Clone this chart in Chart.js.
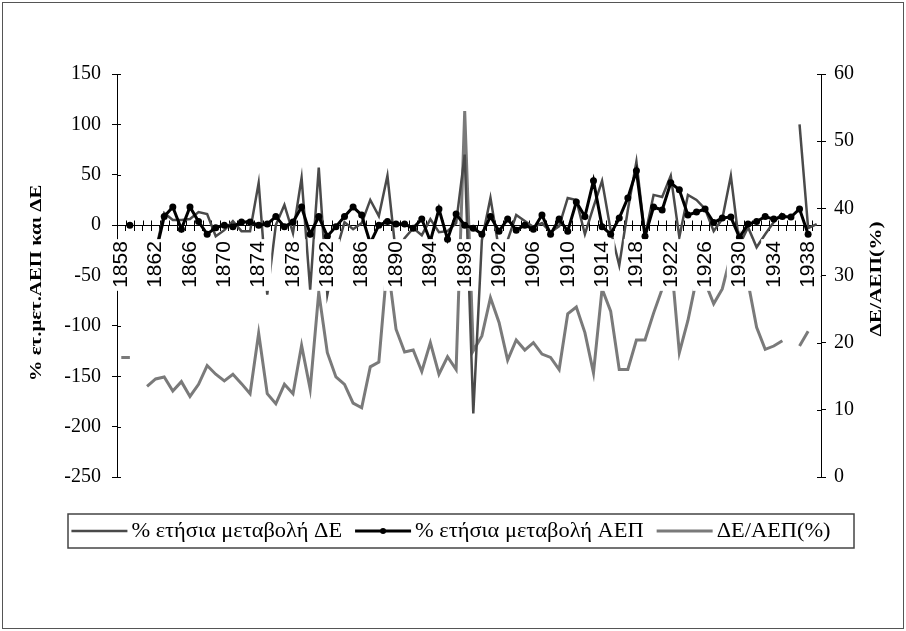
<!DOCTYPE html>
<html><head><meta charset="utf-8">
<script src="https://cdn.jsdelivr.net/npm/chart.js@4"></script>
<style>html,body{margin:0;padding:0;background:#fff;overflow:hidden}</style>
</head><body>
<canvas id="c" width="906" height="631"></canvas>
<script>
const years = ['1858','1859','1860','1861','1862','1863','1864','1865','1866','1867','1868','1869','1870','1871','1872','1873','1874','1875','1876','1877','1878','1879','1880','1881','1882','1883','1884','1885','1886','1887','1888','1889','1890','1891','1892','1893','1894','1895','1896','1897','1898','1899','1900','1901','1902','1903','1904','1905','1906','1907','1908','1909','1910','1911','1912','1913','1914','1915','1916','1917','1918','1919','1920','1921','1922','1923','1924','1925','1926','1927','1928','1929','1930','1931','1932','1933','1934','1935','1936','1937','1938','1939'];

// % annual change of ΔΕ (left axis)
const changeDE = [null,null,null,null,-25,12,5,5,6,13,11,-11,-5,4,-6,-6,42,-69,0,20,-8,47,-64,57,-69,-27,3,-4,2,25,9,49,-30,-13,-3,-10,6,-7,-6,2,70,-187,-15,27,-25,-15,10,4,-2,2,-7,-1,27,25,-9,18,44,-5,-40,15,63,-11,30,28,49,-12,30,25,16,-6,6,49,-20,-2,-22,-9,3,12,null,100,-3,1];

// % annual change of ΑΕΠ (left axis)
const changeGDP = [null,0,null,null,-28,8.5,18,-4,18,3.5,-9,-2.5,0,-1.5,3,3,0,1,8.5,-1.5,3,18,-9,8.5,-11,-1.5,8.5,18,10,-18,0,3.5,1,1,-3,6,-16,16,-14,11,0,-3,-9,8.5,-6,6,-5,0,-4,10,-9,6,-6,23,8.5,44,-1.5,-9,7,27,54,-11,18,15,42,35,10,13,16,2.5,7,8,-12,1,3.5,8.5,6,8.5,8,16,-9,null];

// ΔΕ/ΑΕΠ (%) (right axis)
const ratioDE = [17.8,17.8,null,13.5,14.6,14.9,12.8,14.2,12,13.8,16.6,15.3,14.3,15.3,13.9,12.4,21.4,12.4,10.9,13.8,12.4,19.6,13.1,27.5,18.5,14.9,13.8,11,10.3,16.4,17.1,32,22,18.6,18.9,15.7,20,15.3,17.9,16,54.5,18.8,21,26.7,23,17.4,20.4,18.9,20,18.3,17.8,16,24.3,25.3,21.5,15.5,28,24.7,16,16,20.4,20.4,24.4,28,33,18.5,23.3,29.5,29,25.8,28,33,36,29,22.3,19,19.5,20.3,null,19.5,21.7,null];

const leftTicks = [-250,-200,-150,-100,-50,0,50,100,150];
const rightTicks = [0,10,20,30,40,50,60];
const seriesNames = ['% ετήσια μεταβολή ΔΕ','% ετήσια μεταβολή ΑΕΠ','ΔΕ/ΑΕΠ(%)'];
const leftTitle = '% ετ.μετ.ΑΕΠ και ΔΕ';
const rightTitle = 'ΔΕ/ΑΕΠ(%)';

const framePlugin = {
  id: 'frame',
  beforeDraw(chart) {
    const ctx = chart.ctx;
    ctx.save();
    ctx.fillStyle = '#fff';
    ctx.fillRect(0, 0, chart.width, chart.height);
    ctx.strokeStyle = '#555';
    ctx.lineWidth = 1;
    ctx.strokeRect(2.5, 2.5, chart.width - 5, chart.height - 5);
    ctx.restore();
  }
};

const innerTicks = {
  id: 'innerTicks',
  beforeDatasetsDraw(chart) {
    const ctx = chart.ctx, s = chart.scales, a = chart.chartArea;
    ctx.save();
    ctx.strokeStyle = '#000';
    ctx.lineWidth = 1;
    ctx.beginPath();
    s.y.ticks.forEach(t => { const py = Math.round(s.y.getPixelForValue(t.value)) + 0.5; ctx.moveTo(a.left, py); ctx.lineTo(a.left + 4, py); });
    s.y1.ticks.forEach(t => { const py = Math.round(s.y1.getPixelForValue(t.value)) + 0.5; ctx.moveTo(a.right - 4, py); ctx.lineTo(a.right, py); });
    const y0 = Math.round(s.y.getPixelForValue(0)) + 0.5;
    const n = years.length;
    for (let i = 0; i <= n; i++) {
      const px = Math.round(a.left + (a.right - a.left) * i / n) + 0.5;
      ctx.moveTo(px, y0 - 5); ctx.lineTo(px, y0);
    }
    ctx.stroke();
    ctx.restore();
  }
};

function drawStretched(ctx, text, cx, cy, font, stretch) {
  ctx.save();
  ctx.translate(cx, cy);
  ctx.rotate(-Math.PI / 2);
  ctx.scale(stretch, 1);
  ctx.font = font;
  ctx.fillStyle = '#000';
  ctx.textAlign = 'center';
  ctx.textBaseline = 'middle';
  ctx.fillText(text, 0, 0);
  ctx.restore();
}

const titlesPlugin = {
  id: 'titles',
  afterDraw(chart) {
    const ctx = chart.ctx;
    drawStretched(ctx, leftTitle, 37, 283, 'bold 16px "Liberation Serif"', 1.3);
    drawStretched(ctx, rightTitle, 877, 279, 'bold 16px "Liberation Serif"', 1.33);
  }
};

const legendPlugin = {
  id: 'boxLegend',
  afterDraw(chart) {
    const ctx = chart.ctx;
    const L = 68, T = 514, R = 854, B = 548;
    const stretch = 1.12;
    ctx.save();
    ctx.strokeStyle = '#444';
    ctx.lineWidth = 1.5;
    ctx.strokeRect(L, T, R - L, B - T);
    ctx.font = '20px "Liberation Serif"';
    ctx.textBaseline = 'middle';
    ctx.textAlign = 'left';
    const sample = 56, gap = 4, itemGap = 13;
    const ds = chart.data.datasets;
    const widths = ds.map(d => ctx.measureText(d.label).width * stretch);
    const total = widths.reduce((s, w) => s + w + sample + gap, 0) + itemGap * (ds.length - 1);
    let x = (L + R) / 2 - total / 2 - 10;
    const cy = (T + B) / 2;
    ds.forEach((d, i) => {
      ctx.strokeStyle = d.borderColor;
      ctx.lineWidth = d.borderWidth;
      ctx.beginPath(); ctx.moveTo(x, cy); ctx.lineTo(x + sample, cy); ctx.stroke();
      if (d.pointRadius > 0) {
        ctx.fillStyle = d.pointBackgroundColor;
        ctx.beginPath(); ctx.arc(x + sample / 2, cy, d.pointRadius - 0.5, 0, Math.PI * 2); ctx.fill();
      }
      ctx.save();
      ctx.translate(x + sample + gap, cy + 1);
      ctx.scale(stretch, 1);
      ctx.fillStyle = '#000';
      ctx.fillText(d.label, 0, 0);
      ctx.restore();
      x += sample + gap + widths[i] + itemGap;
    });
    ctx.restore();
  }
};

new Chart(document.getElementById('c'), {
  type: 'line',
  data: {
    labels: years,
    datasets: [
      { label: seriesNames[0], data: changeDE, yAxisID: 'y', borderColor: '#4a4a4a', borderWidth: 2.5, pointRadius: 0, tension: 0, spanGaps: false, order: 1 },
      { label: seriesNames[1], data: changeGDP, yAxisID: 'y', borderColor: '#000', borderWidth: 3, pointRadius: 3.5, pointBackgroundColor: '#000', pointBorderWidth: 0, pointHoverRadius: 3.5, tension: 0, spanGaps: false, order: 0 },
      { label: seriesNames[2], data: ratioDE, yAxisID: 'y1', borderColor: '#7a7a7a', borderWidth: 3, pointRadius: 0, tension: 0, spanGaps: false, order: 2 }
    ]
  },
  options: {
    responsive: false,
    animation: false,
    devicePixelRatio: 1,
    layout: { padding: { left: 0, right: 0, top: 74, bottom: 154 } },
    plugins: { legend: { display: false }, tooltip: { enabled: false } },
    scales: {
      x: {
        type: 'category',
        position: { y: 0 },
        offset: true,
        grid: { display: true, drawOnChartArea: false, drawTicks: true, tickLength: 5, color: '#000', offset: true },
        border: { display: true, color: '#000', width: 1 },
        ticks: {
          autoSkip: false, minRotation: 90, maxRotation: 90, padding: 11, labelOffset: -12.6, z: 1,
          font: { family: 'Liberation Sans', size: 21, lineHeight: 1.2 }, color: '#000',
          callback: (v, i) => (i % 4 === 0 ? years[i] : ''),
          showLabelBackdrop: (c) => c.index % 4 === 0,
          backdropColor: '#fff',
          backdropPadding: { top: 0, bottom: 0, left: 3, right: 2 }
        }
      },
      y: {
        position: 'left',
        min: leftTicks[0], max: leftTicks[leftTicks.length - 1],
        afterBuildTicks: s => { s.ticks = leftTicks.map(v => ({ value: v })); },
        afterFit: s => { s.width = 117; },
        grid: { drawOnChartArea: false, drawTicks: true, tickLength: 5, color: '#000' },
        border: { display: true, color: '#000', width: 1 },
        ticks: { font: { family: 'Liberation Serif', size: 20 }, color: '#000', padding: 11 }
      },
      y1: {
        position: 'right',
        min: rightTicks[0], max: rightTicks[rightTicks.length - 1],
        afterBuildTicks: s => { s.ticks = rightTicks.map(v => ({ value: v })); },
        afterFit: s => { s.width = 85; },
        grid: { drawOnChartArea: false, drawTicks: true, tickLength: 5, color: '#000' },
        border: { display: true, color: '#000', width: 1 },
        ticks: { font: { family: 'Liberation Serif', size: 20 }, color: '#000', padding: 8 }
      }
    }
  },
  plugins: [framePlugin, innerTicks, titlesPlugin, legendPlugin]
});
</script>
</body></html>
